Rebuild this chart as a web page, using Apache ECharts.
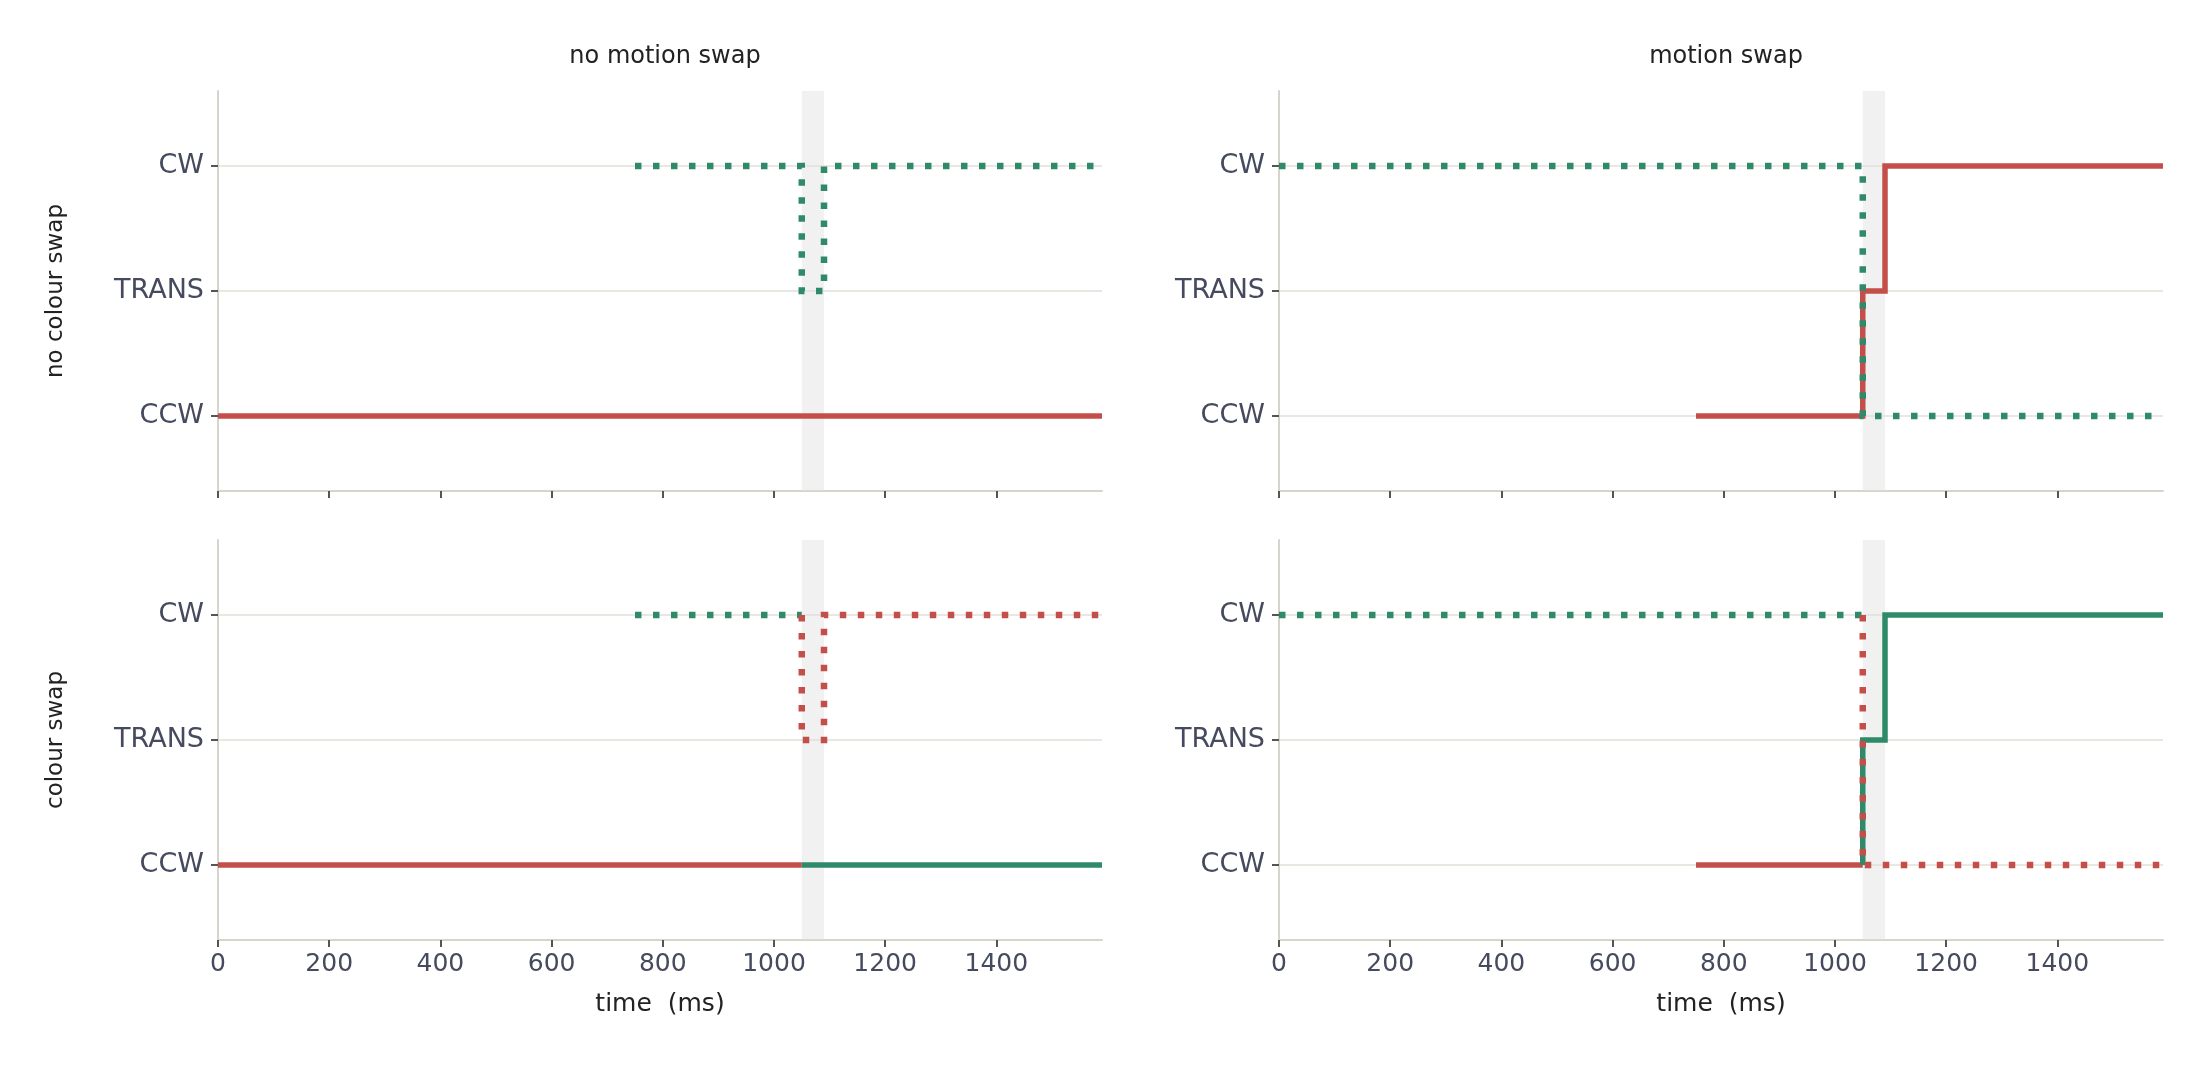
<!DOCTYPE html>
<html><head><meta charset="utf-8">
<script src="https://cdn.jsdelivr.net/npm/echarts@6/dist/echarts.min.js"></script>
<style>html,body{margin:0;background:#fff}#c{width:2202px;height:1080px}</style>
</head><body><div id="c"></div>
<script>
const yLabels = ['CCW','TRANS','CW'];
const xTicks = [0,200,400,600,800,1000,1200,1400];
const band = [1050,1090];
const colTitles = ['no motion swap','motion swap'];
const rowTitles = ['no colour swap','colour swap'];
const RED='#c44f4a', GREEN='#2e8a69';
const tlRedSolid = [[0,0],[1590,0]];
const tlGreenDot = [[750,2],[1050,2],[1050,1],[1090,1],[1090,2],[1590,2]];
const trGreenDot = [[0,2],[1050,2],[1050,0],[1590,0]];
const trRedSolid = [[750,0],[1050,0],[1050,1],[1090,1],[1090,2],[1590,2]];
const blRedSolid = [[0,0],[1050,0]];
const blGreenSolid = [[1050,0],[1590,0]];
const blGreenDot = [[750,2],[1050,2]];
const blRedDot = [[1050,2],[1050,1],[1090,1],[1090,2],[1590,2]];
const brGreenDot = [[0,2],[1050,2]];
const brRedDot = [[1050,2],[1050,0],[1590,0]];
const brRedSolid = [[750,0],[1050,0]];
const brGreenSolid = [[1050,0],[1050,1],[1090,1],[1090,2],[1590,2]];
const panels = [
  [[GREEN,true,tlGreenDot],[RED,false,tlRedSolid]],
  [[GREEN,true,trGreenDot],[RED,false,trRedSolid]],
  [[GREEN,true,blGreenDot],[RED,true,blRedDot],[RED,false,blRedSolid],[GREEN,false,blGreenSolid]],
  [[GREEN,true,brGreenDot],[RED,true,brRedDot],[RED,false,brRedSolid],[GREEN,false,brGreenSolid]]
];
const lefts=[218,1279], tops=[91,540], W=884, H=400;
const TXT='#454a5e', AX='#d6d4cb', GR='#e9e7e2', FONT='DejaVu Sans';
const grid=[],xAxis=[],yAxis=[],series=[];
for(let i=0;i<4;i++){
  const r=Math.floor(i/2), c=i%2;
  grid.push({left:lefts[c],top:tops[r],width:W,height:H});
  xAxis.push({gridIndex:i,type:'value',min:0,max:1590,interval:200,
    name: r===1?'time  (ms)':'', nameLocation:'middle', nameGap:52,
    nameTextStyle:{color:'#222',fontSize:25,fontFamily:FONT},
    axisLine:{onZero:false,lineStyle:{color:AX,width:2}},
    axisTick:{show:true,length:7,lineStyle:{color:'#555',width:2},customValues:xTicks},
    axisLabel:{show:r===1,color:TXT,fontSize:25,fontFamily:FONT,margin:12,
      customValues:xTicks,formatter:v=>String(v)},
    splitLine:{show:false}});
  yAxis.push({gridIndex:i,type:'value',min:-0.6,max:2.6,
    name: c===0?rowTitles[r]:'', nameLocation:'middle', nameGap:150, nameRotate:90,
    nameTextStyle:{color:'#222',fontSize:23,fontFamily:FONT},
    axisLine:{show:true,onZero:false,lineStyle:{color:AX,width:2}},
    axisTick:{show:true,length:7,lineStyle:{color:'#555',width:2},customValues:[0,1,2]},
    axisLabel:{color:TXT,fontSize:27,fontFamily:FONT,margin:14,customValues:[0,1,2],
      formatter:v=>yLabels[Math.round(v)]},
    splitLine:{show:true,lineStyle:{color:GR,width:2},customValues:[0,1,2]}});
  series.push({type:'line',xAxisIndex:i,yAxisIndex:i,data:[],silent:true,
    markArea:{silent:true,itemStyle:{color:'rgba(225,225,225,0.45)'},data:[[{xAxis:band[0]},{xAxis:band[1]}]]}});
  panels[i].forEach(([col,dot,pts])=>{
    series.push({type:'line',xAxisIndex:i,yAxisIndex:i,data:pts,symbol:'none',silent:true,
      lineStyle:{color:col,width:dot?6.5:5.5,type:dot?[6.5,11.5]:'solid',cap:'butt',join:'miter'},z:dot?3:2});
  });
}
const title=colTitles.map((t,c)=>({text:t,left:lefts[c]+W/2,top:40,textAlign:'center',
  textStyle:{color:'#222',fontSize:24,fontWeight:'normal',fontFamily:FONT}}));
const ch=echarts.init(document.getElementById('c'));
ch.setOption({backgroundColor:'#fff',animation:false,title,grid,xAxis,yAxis,series});
</script></body></html>
